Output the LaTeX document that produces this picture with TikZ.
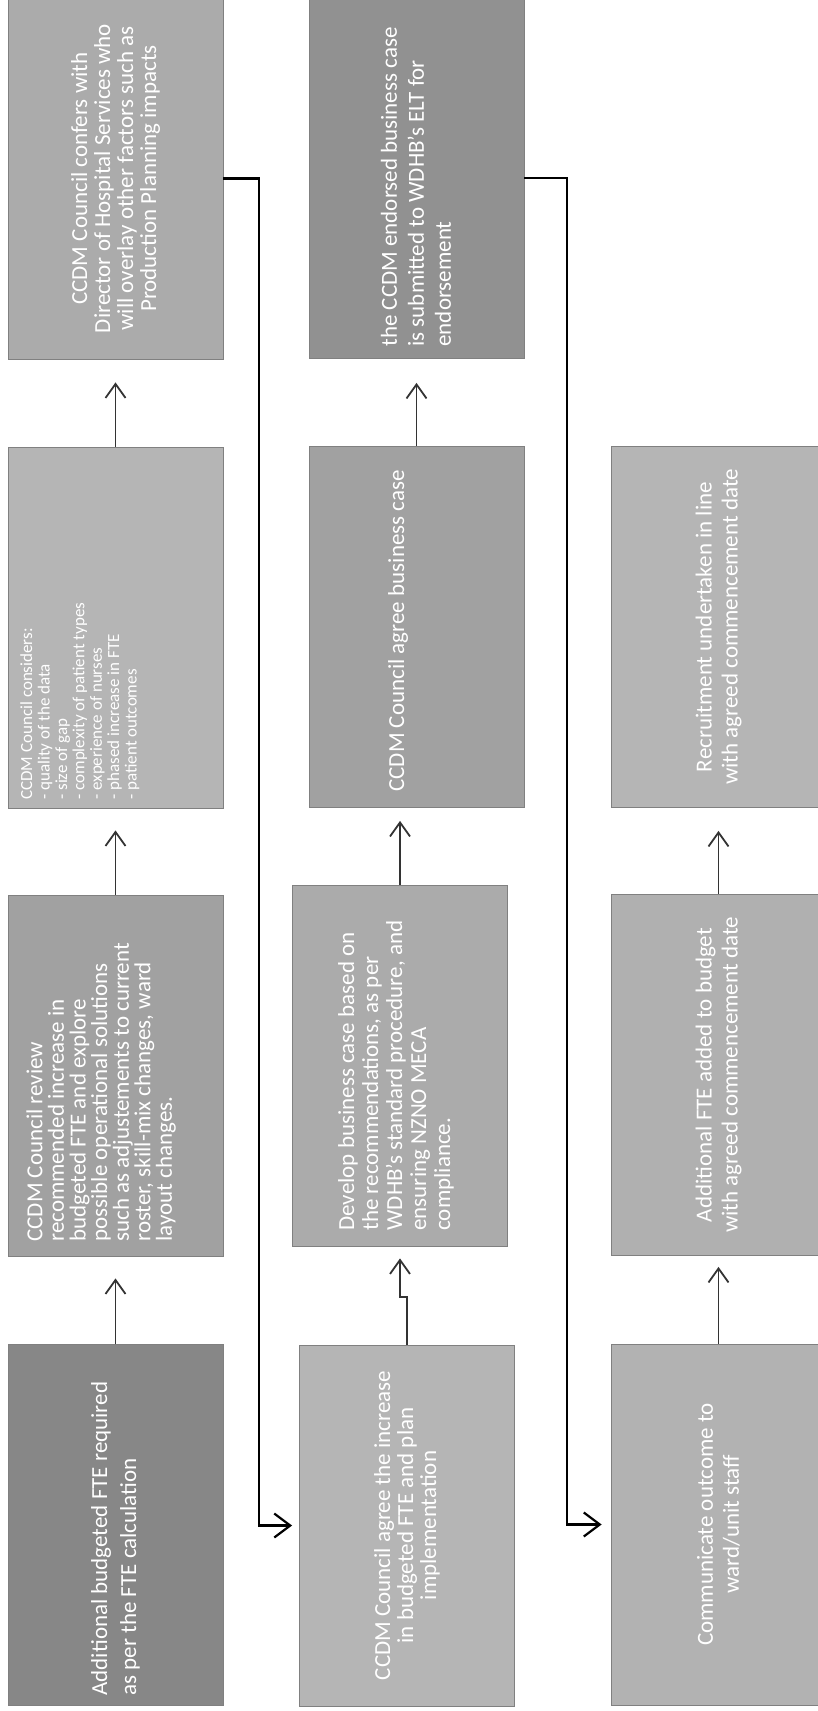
\documentclass[tikz,border=0pt]{standalone}
\usepackage{fontspec}
\setmainfont{Carlito}
\usetikzlibrary{arrows.meta, positioning}
\tikzset{
    stage/.style={draw=black!50, line width=0.4pt, minimum width=107.5pt, minimum height=180.5pt, inner sep=0pt},
    stagetext/.style={rotate=90, text=white, inner sep=0pt, align=left, font=\fontsize{11.5}{11.5}\selectfont},
    flow/.style={draw=black!80, line width=0.9pt, -{Straight Barb[length=7pt, width=10pt, line width=0.9pt]}},
    link/.style={draw=black, line width=1.1pt, -{Straight Barb[length=8pt, width=12pt, line width=1.1pt]}},
}

\begin{document}
\begin{tikzpicture}[x=0.5pt, y=-0.5pt]
    \useasboundingbox (0,0) rectangle (818,1711);

    % first column
    \node[stage, fill=black!47] (A) at (115.5,1525) {};
    \node[stage, fill=black!37] (B) at (115.5,1075.5) {};
    \node[stage, fill=black!29] (C) at (115.5,627.5) {};
    \node[stage, fill=black!33] (D) at (115.5,178.5) {};

    % second column
    \node[stage, fill=black!29] (E) at (407,1525.5) {};
    \node[stage, fill=black!33] (F) at (400,1065.5) {};
    \node[stage, fill=black!37] (G) at (416.5,627) {};
    \node[stage, fill=black!43] (H) at (416.5,178) {};

    % third column
    \node[stage, fill=black!30] (I) at (718.5,1524.5) {};
    \node[stage, fill=black!31] (J) at (718.5,1075) {};
    \node[stage, fill=black!29] (K) at (718.5,627) {};

    \node[stagetext, anchor=west, font=\fontsize{11.5}{14.5}\selectfont] (Atext) at ([yshift=5pt]A.south)
        {Additional budgeted FTE required\\as per the FTE calculation};
    \node[stagetext, anchor=north west, font=\fontsize{11.5}{10.8}\selectfont] (Btext) at (26,1242)
        {CCDM Council review\\recommended increase in\\budgeted FTE and explore\\possible operational solutions\\such as adjustements to current\\roster, skill-mix changes, ward\\layout changes.};
    \node[stagetext, anchor=north west, font=\fontsize{8.5}{8.7}\selectfont] (Ctext) at (20,800)
        {CCDM Council considers:\\- quality of the data\\- size of gap\\- complexity of patient types\\- experience of nurses\\- phased increase in FTE\\- patient outcomes};
    \node[stagetext, align=center] (Dtext) at (D)
        {CCDM Council confers with\\Director of Hospital Services who\\will overlay other factors such as\\Production Planning impacts};

    \node[stagetext, align=center] (Etext) at (E)
        {CCDM Council agree the increase\\in budgeted FTE and plan\\implementation};
    \node[stagetext, anchor=west, font=\fontsize{11.5}{12}\selectfont] (Ftext) at (396,1231)
        {Develop business case based on\\the recommendations, as per\\WDHB's standard procedure, and\\ensuring NZNO MECA\\compliance.};
    \node[stagetext, anchor=west] (Gtext) at (398,792) {CCDM Council agree business case};
    \node[stagetext, anchor=west, font=\fontsize{11.5}{13.5}\selectfont] (Htext) at (416,347)
        {the CCDM endorsed business case\\is submitted to WDHB's ELT for\\endorsement};

    \node[stagetext, align=center, font=\fontsize{11.5}{13}\selectfont] (Itext) at (I)
        {Communicate outcome to\\ward/unit staff};
    \node[stagetext, align=center, font=\fontsize{11.5}{13}\selectfont] (Jtext) at (J)
        {Additional FTE added to budget\\with agreed commencement date};
    \node[stagetext, align=center, font=\fontsize{11.5}{13}\selectfont] (Ktext) at (K)
        {Recruitment undertaken in line\\with agreed commencement date};

    % steps within a column
    \draw[flow, shorten >=11pt] (A.north) -- (B.south);
    \draw[flow, shorten >=11pt] (B.north) -- (C.south);
    \draw[flow, shorten >=11.5pt] (C.north) -- (D.south);
    \draw[flow, shorten >=6pt] (E.north) -- ++(0,-48) -| (F.south);
    \draw[flow, shorten >=6.5pt] (F.north) -- (F.north |- G.south);
    \draw[flow, shorten >=12pt] (G.north) -- (H.south);
    \draw[flow, shorten >=5.5pt] (I.north) -- (J.south);
    \draw[flow, shorten >=11.5pt] (J.north) -- (K.south);

    % from one column to the next
    \coordinate (bus1) at (259,0);
    \coordinate (bus2) at (567,0);
    \draw[link, shorten >=3.5pt] (D.east) -- (D.east -| bus1) |- (E.west);
    \draw[link, shorten >=4.5pt] (H.east) -- (H.east -| bus2) |- (I.west);
\end{tikzpicture}
\end{document}
